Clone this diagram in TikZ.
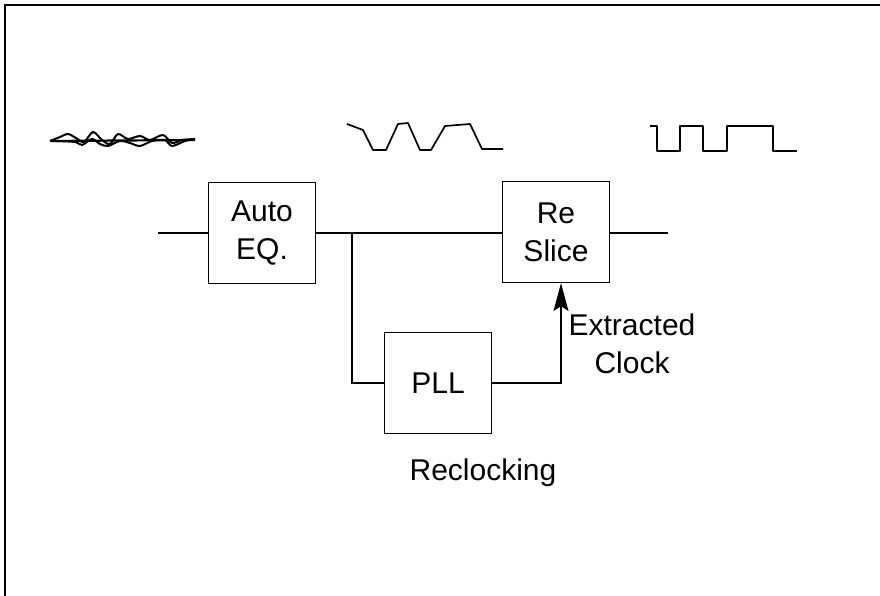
\documentclass[tikz,border=0pt]{standalone}
\usepackage{fontspec}
\setmainfont{Liberation Sans}
\usetikzlibrary{arrows.meta, calc}

\begin{document}
\begin{tikzpicture}[x=1pt, y=-1pt, line width=1.2pt,
      block/.style={rectangle, draw, minimum width=107pt, minimum height=101pt,
                     align=center, inner sep=0pt, font=\fontsize{30}{38}\selectfont},
      lbl/.style={align=center, inner sep=0pt, font=\fontsize{30}{38}\selectfont},
      arrow/.style={-{Stealth[length=28pt, width=15pt, inset=5pt]}},
      wave/.style={line width=1.7pt, line join=round}
    ]
    \useasboundingbox (0,0) rectangle (880,596);
    % frame
    \draw (880,5) -- (5,5) -- (5,596);

    \node[block] (eq) at (262,233) {Auto\\EQ.};
    \node[block] (reslice) at (556,232) {Re\\Slice};
    \node[block] (pll) at (438,383) {PLL};

    \coordinate (in) at (158,233);
    \coordinate (out) at (668,233);
    \coordinate (tap) at (352,233);
    \coordinate (clk) at (561,383);

    \draw (in) -- (eq.west);
    \draw (eq.east) -- (reslice.west |- eq.east);
    \draw (reslice.east |- out) -- (out);
    \draw (tap) |- (pll.west);
    \draw[arrow] (pll.east) -- (clk) -- (clk |- reslice.south);

    \node[lbl] (xclk) at (632,344) {Extracted\\Clock};
    \node[lbl] (recl) at (483,473) {Reclocking};

    % signal shapes
    \draw[wave, line width=2.2pt] (50,141) -- (195,140);
    \draw[wave, line width=2pt] plot[smooth] coordinates {(50,141) (60,137) (68,134) (76,138) (84,142)
      (93,132) (102,140) (110,144) (118,134) (128,139) (140,136) (150,140)
      (163,135) (172,143) (182,140) (195,139)};
    \draw[wave, line width=2pt] plot[smooth] coordinates {(55,141) (75,142) (82,145) (92,139) (100,144)
      (108,146) (120,141) (130,143) (140,146) (152,141) (165,140) (172,146)
      (185,141) (195,139)};
    \draw[wave] (347,124) -- (363,130) -- (373,150) -- (386,150) -- (398,124)
      -- (408,123) -- (420,150) -- (431,150) -- (445,126) -- (470,124)
      -- (482,149) -- (503,149);
    \draw[wave] (650,126) -- (657,126) -- (657,151) -- (680,151) -- (680,126)
      -- (703,126) -- (703,151) -- (727,151) -- (727,126) -- (773,126)
      -- (773,151) -- (797,151);
  \end{tikzpicture}
\end{document}
